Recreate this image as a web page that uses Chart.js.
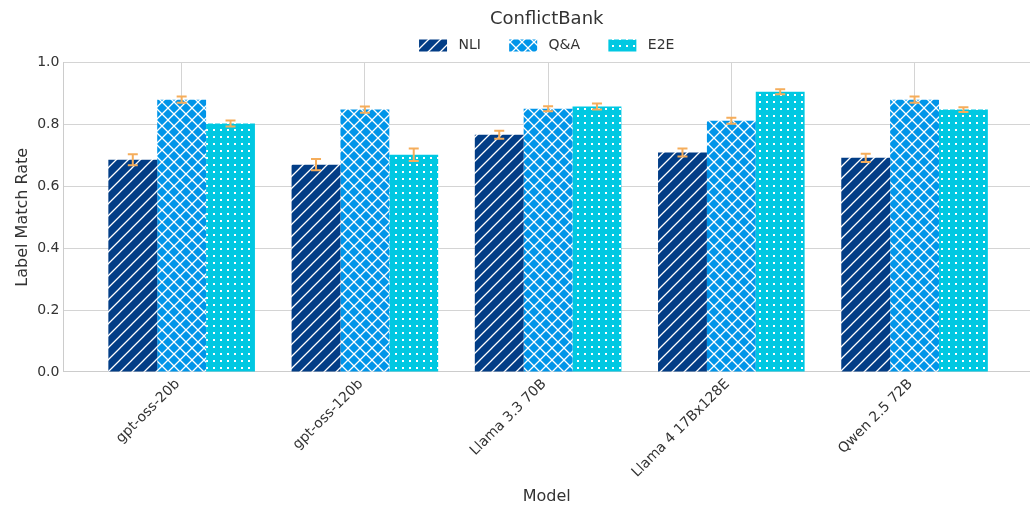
<!DOCTYPE html>
<html>
<head>
<meta charset="utf-8">
<script src="https://cdn.jsdelivr.net/npm/chart.js@4"></script>
<style>
  html, body { margin: 0; padding: 0; background: #fff; }
  #wrap { width: 1030px; height: 511px; }
</style>
</head>
<body>
<div id="wrap"><canvas id="chart" width="1030" height="511"></canvas></div>
<script>
// Data
const models = ['gpt-oss-20b', 'gpt-oss-120b', 'Llama 3.3 70B', 'Llama 4 17Bx128E', 'Qwen 2.5 72B'];
const nliValues = [0.686, 0.670, 0.767, 0.709, 0.692];
const qaValues = [0.880, 0.848, 0.851, 0.812, 0.880];
const e2eValues = [0.803, 0.702, 0.858, 0.906, 0.848];
const nliErr = [0.018, 0.018, 0.013, 0.013, 0.013];
const qaErr = [0.010, 0.010, 0.008, 0.010, 0.010];
const e2eErr = [0.010, 0.020, 0.010, 0.008, 0.008];
const yTicks = [0.0, 0.2, 0.4, 0.6, 0.8, 1.0];

function makePattern(bg, kind) {
    const s = kind === 'dots' ? 7 : 12;
    const c = document.createElement('canvas');
    c.width = s; c.height = s;
    const g = c.getContext('2d');
    g.fillStyle = bg;
    g.fillRect(0, 0, s, s);
    g.strokeStyle = '#ffffff';
    g.fillStyle = '#ffffff';
    g.lineWidth = 1.3;
    if (kind === 'diag' || kind === 'cross') {
        g.beginPath();
        g.moveTo(-1, s + 1); g.lineTo(s + 1, -1);
        g.moveTo(-1, 1); g.lineTo(1, -1);
        g.moveTo(s - 1, s + 1); g.lineTo(s + 1, s - 1);
        g.stroke();
    }
    if (kind === 'cross') {
        g.beginPath();
        g.moveTo(-1, -1); g.lineTo(s + 1, s + 1);
        g.moveTo(s - 1, -1); g.lineTo(s + 1, 1);
        g.moveTo(-1, s - 1); g.lineTo(1, s + 1);
        g.stroke();
    }
    if (kind === 'dots') {
        g.fillRect(3, 3, 2, 2);
    }
    return document.getElementById('chart').getContext('2d').createPattern(c, 'repeat');
}

const errors = [nliErr, qaErr, e2eErr];

// draws the orange error bars using the chart's own scales
const errorBarPlugin = {
    id: 'errorBars',
    afterDatasetsDraw(chart) {
        const ctx = chart.ctx;
        const y = chart.scales.y;
        ctx.save();
        ctx.strokeStyle = '#f5ad5b';
        ctx.lineWidth = 2;
        chart.data.datasets.forEach((ds, di) => {
            const meta = chart.getDatasetMeta(di);
            meta.data.forEach((bar, i) => {
                const v = ds.data[i].y;
                const e = errors[di][i];
                const top = y.getPixelForValue(v + e);
                const bot = y.getPixelForValue(v - e);
                const x = bar.x;
                ctx.beginPath();
                ctx.moveTo(x, top); ctx.lineTo(x, bot);
                ctx.moveTo(x - 5, top); ctx.lineTo(x + 5, top);
                ctx.moveTo(x - 5, bot); ctx.lineTo(x + 5, bot);
                ctx.stroke();
            });
        });
        ctx.restore();
    }
};

const toPoints = arr => arr.map((v, i) => ({ x: i, y: v }));

new Chart(document.getElementById('chart'), {
    type: 'bar',
    data: {
        datasets: [
            { label: 'NLI', data: toPoints(nliValues), backgroundColor: makePattern('#023d86', 'diag') },
            { label: 'Q&A', data: toPoints(qaValues), backgroundColor: makePattern('#0095e9', 'cross') },
            { label: 'E2E', data: toPoints(e2eValues), backgroundColor: makePattern('#00c8e2', 'dots') }
        ]
    },
    options: {
        responsive: false,
        animation: false,
        devicePixelRatio: 1,
        layout: { padding: { top: 3, right: 0, left: 9, bottom: 3 } },
        datasets: { bar: { categoryPercentage: 0.8, barPercentage: 1.0, borderWidth: 0 } },
        plugins: {
            title: {
                display: true,
                fullSize: false,
                text: 'ConflictBank',
                color: '#333',
                font: { family: 'DejaVu Sans', size: 18, weight: 'normal' },
                padding: { top: 6, bottom: 2 }
            },
            legend: {
                fullSize: false,
                labels: {
                    color: '#333',
                    boxWidth: 28,
                    boxHeight: 12,
                    padding: 6,
                    font: { family: 'DejaVu Sans', size: 14 },
                    generateLabels: chart => Chart.defaults.plugins.legend.labels.generateLabels(chart)
                        .map((item, i, all) => ({ ...item, text: ' ' + item.text + (i < all.length - 1 ? '     ' : '') }))
                }
            },
            tooltip: { enabled: false }
        },
        scales: {
            x: {
                type: 'linear',
                offset: false,
                min: -0.645,
                max: 4.63,
                grid: { color: '#d4d4d4', drawTicks: false, offset: false },
                border: { color: '#cccccc' },
                afterBuildTicks: axis => { axis.ticks = models.map((m, i) => ({ value: i })); },
                ticks: {
                    autoSkip: false,
                    minRotation: 45,
                    maxRotation: 45,
                    padding: 4,
                    labelOffset: -4,
                    color: '#333',
                    font: { family: 'DejaVu Sans', size: 14 },
                    callback: v => models[v]
                },
                title: {
                    display: true,
                    text: 'Model',
                    color: '#333',
                    font: { family: 'DejaVu Sans', size: 16 },
                    padding: { top: 2, bottom: 2 }
                }
            },
            y: {
                min: 0,
                max: 1,
                grid: { color: '#d4d4d4', drawTicks: false },
                border: { color: '#cccccc' },
                afterBuildTicks: axis => { axis.ticks = yTicks.map(v => ({ value: v })); },
                ticks: {
                    padding: 4,
                    color: '#333',
                    font: { family: 'DejaVu Sans', size: 14 },
                    callback: v => v.toFixed(1)
                },
                title: {
                    display: true,
                    text: 'Label Match Rate',
                    color: '#333',
                    font: { family: 'DejaVu Sans', size: 16 },
                    padding: { top: 4, bottom: 1 }
                }
            }
        }
    },
    plugins: [errorBarPlugin]
});
</script>
</body>
</html>
